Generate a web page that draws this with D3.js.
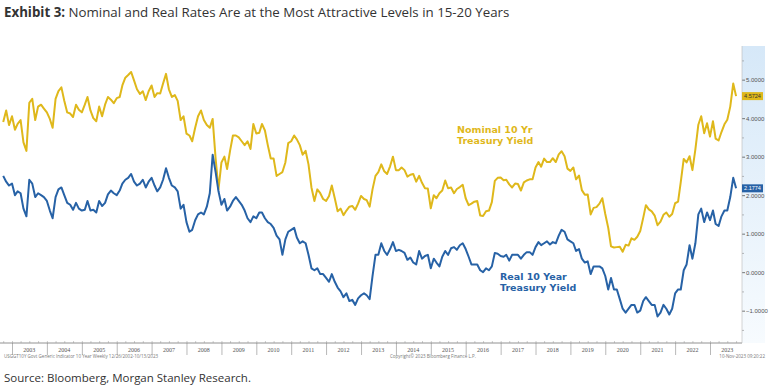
<!DOCTYPE html>
<html>
<head>
<meta charset="utf-8">
<script src="https://cdn.jsdelivr.net/npm/d3@7"></script>
<style>
body { margin: 0; background: #fff; }
svg { display: block; font-family: "Open Sans", sans-serif; }
</style>
</head>
<body>
<div id="chart"></div>
<script>
// monthly readings, Oct 2002 .. Oct 2023
var firstMonth = new Date(2002, 9, 1);

var nominalYield = [
  3.90, 4.20, 3.82,
  4.05, 3.70, 3.85, 3.95, 3.37, 3.15, 4.40, 4.50, 3.95, 4.30, 4.35, 4.25,
  4.15, 3.98, 3.75, 4.50, 4.70, 4.80, 4.45, 4.15, 4.12, 4.03, 4.35, 4.22,
  4.15, 4.35, 4.55, 4.20, 4.00, 3.92, 4.30, 4.05, 4.35, 4.55, 4.48, 4.39,
  4.52, 4.55, 4.85, 5.05, 5.12, 5.20, 4.98, 4.75, 4.63, 4.70, 4.47, 4.70,
  4.85, 4.55, 4.65, 4.64, 4.90, 5.15, 4.75, 4.55, 4.60, 4.45, 3.95, 4.05,
  3.60, 3.55, 3.40, 3.75, 4.05, 4.20, 3.95, 3.82, 3.75, 3.98, 2.95, 2.15,
  2.85, 3.00, 2.68, 3.15, 3.55, 3.55, 3.50, 3.40, 3.30, 3.40, 3.20, 3.85,
  3.60, 3.62, 3.85, 3.68, 3.30, 2.95, 2.95, 2.50, 2.55, 2.60, 2.85, 3.35,
  3.40, 3.55, 3.45, 3.30, 3.05, 3.15, 2.80, 2.20, 1.85, 2.15, 2.05, 1.90,
  1.85, 1.98, 2.25, 1.92, 1.58, 1.65, 1.48, 1.60, 1.70, 1.72, 1.62, 1.78,
  1.98, 1.90, 1.87, 1.70, 2.15, 2.50, 2.60, 2.80, 2.62, 2.55, 2.75, 3.00,
  2.65, 2.65, 2.72, 2.65, 2.48, 2.53, 2.55, 2.35, 2.50, 2.32, 2.18, 2.17,
  1.66, 2.00, 1.92, 2.05, 2.12, 2.38, 2.18, 2.20, 2.05, 2.16, 2.21, 2.27,
  1.92, 1.74, 1.78, 1.83, 1.85, 1.47, 1.46, 1.58, 1.60, 1.82, 2.37, 2.45,
  2.46, 2.39, 2.40, 2.28, 2.20, 2.30, 2.29, 2.12, 2.33, 2.38, 2.41, 2.41,
  2.72, 2.86, 2.74, 2.95, 2.86, 2.86, 2.96, 2.86, 3.06, 3.14, 3.01, 2.69,
  2.63, 2.72, 2.41, 2.51, 2.13, 2.01, 2.02, 1.50, 1.67, 1.69, 1.78, 1.92,
  1.51, 1.15, 0.67, 0.64, 0.65, 0.66, 0.53, 0.71, 0.69, 0.88, 0.84, 0.92,
  1.07, 1.41, 1.74, 1.63, 1.58, 1.47, 1.22, 1.31, 1.49, 1.55, 1.44, 1.51,
  1.79, 1.83, 2.34, 2.94, 2.85, 3.01, 2.65, 3.19, 3.83, 4.05, 3.61, 3.87,
  3.52, 3.92, 3.47, 3.42, 3.64, 3.84, 3.96, 4.30, 4.90, 4.5724
];

var realYield = [
  2.50, 2.35, 2.25,
  2.30, 2.00, 2.10, 2.05, 1.65, 1.45, 2.40, 2.30, 1.95, 2.05, 2.00, 1.95,
  1.85, 1.60, 1.40, 1.95, 2.15, 2.20, 2.00, 1.80, 1.75, 1.62, 1.80, 1.65,
  1.60, 1.62, 1.85, 1.60, 1.62, 1.55, 1.85, 1.72, 1.80, 2.02, 2.12, 2.05,
  2.00, 2.12, 2.30, 2.40, 2.45, 2.55, 2.35, 2.25, 2.30, 2.40, 2.20, 2.35,
  2.45, 2.25, 2.10, 2.20, 2.40, 2.70, 2.45, 2.25, 2.20, 2.10, 1.65, 1.75,
  1.30, 1.05, 1.10, 1.35, 1.50, 1.55, 1.50, 1.70, 2.05, 3.05, 2.60, 2.10,
  1.75, 1.90, 1.60, 1.70, 1.85, 1.95, 1.85, 1.75, 1.60, 1.40, 1.30, 1.45,
  1.40, 1.55, 1.55, 1.40, 1.30, 1.25, 1.15, 0.95, 0.85, 0.45, 0.85, 1.05,
  1.10, 1.15, 0.90, 0.75, 0.80, 0.75, 0.45, 0.10, 0.05, 0.10, -0.05, -0.05,
  -0.15, -0.25, -0.05, -0.25, -0.40, -0.50, -0.65, -0.55, -0.75, -0.72, -0.85, -0.68,
  -0.60, -0.55, -0.60, -0.70, -0.10, 0.45, 0.45, 0.75, 0.55, 0.45, 0.60, 0.78,
  0.55, 0.58, 0.55, 0.50, 0.32, 0.38, 0.25, 0.20, 0.55, 0.35, 0.42, 0.45,
  0.10, 0.35, 0.25, 0.15, 0.40, 0.55, 0.45, 0.62, 0.65, 0.58, 0.70, 0.75,
  0.60, 0.40, 0.20, 0.20, 0.20, 0.05, 0.00, 0.10, 0.05, 0.15, 0.50, 0.48,
  0.42, 0.40, 0.45, 0.30, 0.45, 0.45, 0.45, 0.35, 0.45, 0.52, 0.52, 0.45,
  0.65, 0.78, 0.70, 0.75, 0.80, 0.72, 0.78, 0.75, 0.95, 1.10, 1.05, 0.85,
  0.80, 0.75, 0.55, 0.60, 0.35, 0.25, 0.28, -0.05, 0.15, 0.15, 0.15, 0.10,
  -0.10, -0.45, -0.15, -0.45, -0.45, -0.70, -0.95, -1.05, -0.95, -0.85, -0.85, -1.05,
  -1.00, -0.75, -0.65, -0.75, -0.85, -0.85, -1.15, -1.05, -0.85, -0.95, -1.10, -0.95,
  -0.55, -0.45, -0.45, 0.05, 0.20, 0.70, 0.35, 0.75, 1.50, 1.65, 1.30, 1.55,
  1.35, 1.60, 1.25, 1.20, 1.45, 1.60, 1.60, 1.95, 2.45, 2.1774
];

var yearLabels = ["2003","2004","2005","2006","2007","2008","2009","2010","2011","2012",
  "2013","2014","2015","2016","2017","2018","2019","2020","2021","2022","2023"];
var yTicks = [-1, 0, 1, 2, 3, 4, 5];

var w = 778, h = 387;
var gold = "#dfb81b", blue = "#2762a6";

var svg = d3.select("#chart").append("svg")
  .attr("width", w)
  .attr("height", h);

var x = d3.scaleTime()
  .domain([new Date(2003, 0, 1), new Date(2023, 0, 1)])
  .range([12, 710]);
var y = d3.scaleLinear()
  .domain([-1.84, 6.03])
  .range([343, 40]);

var dates = nominalYield.map(function(d, i) { return d3.timeMonth.offset(firstMonth, i); });

// right axis panel
var grad = svg.append("defs").append("linearGradient")
  .attr("id", "panel").attr("x1", 0).attr("y1", 0).attr("x2", 0).attr("y2", 1);
grad.append("stop").attr("offset", "0%").attr("stop-color", "#d6e8f8");
grad.append("stop").attr("offset", "100%").attr("stop-color", "#f7fbfe");
svg.append("rect")
  .attr("x", 742).attr("y", 46).attr("width", 23).attr("height", 297)
  .attr("fill", "url(#panel)");

// title
var title = svg.append("text").attr("x", 4).attr("y", 17)
  .attr("font-size", 13.3).attr("fill", "#333");
title.append("tspan").attr("font-weight", "bold").text("Exhibit 3:");
title.append("tspan").text(" Nominal and Real Rates Are at the Most Attractive Levels in 15-20 Years");

// x axis
var xAxis = d3.axisBottom(x)
  .tickValues(d3.timeYear.range(new Date(2003, 0, 1), new Date(2024, 0, 1)))
  .tickSize(12)
  .tickFormat("");
var gx = svg.append("g").attr("transform", "translate(0,343)").call(xAxis);
gx.select(".domain").remove();
gx.selectAll("line").attr("stroke", "#888").attr("stroke-width", 0.6);
svg.append("line").attr("x1", 0).attr("x2", 742).attr("y1", 343).attr("y2", 343)
  .attr("stroke", "#777").attr("stroke-width", 0.8);

var minorX = d3.axisTop(x)
  .tickValues(d3.timeMonth.range(new Date(2002, 9, 1), new Date(2023, 11, 1), 3))
  .tickSize(2).tickFormat("");
var gmx = svg.append("g").attr("transform", "translate(0,343)").call(minorX);
gmx.select(".domain").remove();
gmx.selectAll("line").attr("stroke", "#999").attr("stroke-width", 0.5);

svg.append("g").selectAll("text")
  .data(yearLabels)
  .enter().append("text")
  .attr("x", function(d) { return x(new Date(+d, 6, 1)); })
  .attr("y", 352)
  .attr("text-anchor", "middle")
  .attr("font-size", 6)
  .attr("font-family", "Liberation Serif, serif")
  .attr("fill", "#555")
  .text(function(d) { return d; });

// right y axis
var yAxis = d3.axisRight(y)
  .tickValues(yTicks)
  .tickSize(3)
  .tickFormat(d3.format(".4f"));
var gy = svg.append("g").attr("transform", "translate(742,0)").call(yAxis);
gy.select(".domain").remove();
gy.selectAll("line").attr("stroke", "#555").attr("stroke-width", 0.8);
gy.selectAll("text").attr("font-size", 6).attr("fill", "#555")
  .attr("font-family", "Liberation Sans, sans-serif").attr("x", 4);

var minorY = d3.axisRight(y)
  .tickValues([-1.5, -0.5, 0.5, 1.5, 2.5, 3.5, 4.5, 5.5])
  .tickSize(2).tickFormat("");
var gmy = svg.append("g").attr("transform", "translate(742,0)").call(minorY);
gmy.select(".domain").remove();
gmy.selectAll("line").attr("stroke", "#888").attr("stroke-width", 0.6);

svg.append("line").attr("x1", 742).attr("x2", 742).attr("y1", 46).attr("y2", 343)
  .attr("stroke", "#bbb").attr("stroke-width", 0.6);

// lines
var line = d3.line()
  .x(function(d) { return x(d[0]); })
  .y(function(d) { return y(d[1]); });

svg.append("path")
  .datum(dates.map(function(d, i) { return [d, nominalYield[i]]; }))
  .attr("d", line)
  .attr("fill", "none")
  .attr("stroke", gold)
  .attr("stroke-width", 2)
  .attr("stroke-linejoin", "round");

svg.append("path")
  .datum(dates.map(function(d, i) { return [d, realYield[i]]; }))
  .attr("d", line)
  .attr("fill", "none")
  .attr("stroke", blue)
  .attr("stroke-width", 2)
  .attr("stroke-linejoin", "round");

// last value tags
var lastN = nominalYield[nominalYield.length - 1];
var lastR = realYield[realYield.length - 1];
svg.append("rect").attr("x", 742).attr("y", y(lastN) - 4).attr("width", 21).attr("height", 8)
  .attr("fill", gold);
svg.append("text").attr("x", 752.5).attr("y", y(lastN) + 2).attr("text-anchor", "middle")
  .attr("font-size", 5.5).attr("font-family", "Liberation Sans, sans-serif")
  .attr("fill", "#333").text(d3.format(".4f")(lastN));
svg.append("rect").attr("x", 742).attr("y", y(lastR) - 4).attr("width", 21).attr("height", 8)
  .attr("fill", blue);
svg.append("text").attr("x", 752.5).attr("y", y(lastR) + 2).attr("text-anchor", "middle")
  .attr("font-size", 5.5).attr("font-family", "Liberation Sans, sans-serif")
  .attr("fill", "#fff").text(d3.format(".4f")(lastR));

// series labels
var nomLabel = svg.append("text").attr("font-size", 9.5).attr("font-weight", "bold")
  .attr("font-family", "DejaVu Sans, sans-serif").attr("fill", gold);
nomLabel.append("tspan").attr("x", 457).attr("y", 133).text("Nominal 10 Yr");
nomLabel.append("tspan").attr("x", 457).attr("y", 144).text("Treasury Yield");

var realLabel = svg.append("text").attr("font-size", 9.5).attr("font-weight", "bold")
  .attr("font-family", "DejaVu Sans, sans-serif").attr("fill", blue);
realLabel.append("tspan").attr("x", 500).attr("y", 280).text("Real 10 Year");
realLabel.append("tspan").attr("x", 500).attr("y", 291).text("Treasury Yield");

// bloomberg footer
svg.append("text").attr("x", 4).attr("y", 358).attr("font-size", 4.5).attr("fill", "#777")
  .text("USGGT10Y Govt Generic Indicator 10 Year   Weekly 12/26/2002-10/13/2023");
svg.append("text").attr("x", 390).attr("y", 358).attr("font-size", 4.5).attr("fill", "#777")
  .text("Copyright\u00a9 2023 Bloomberg Finance L.P.");
svg.append("text").attr("x", 765).attr("y", 358).attr("font-size", 4.5).attr("fill", "#777")
  .attr("text-anchor", "end").text("10-Nov-2023 09:20:22");

// source
svg.append("text").attr("x", 4).attr("y", 382).attr("font-size", 11.5).attr("fill", "#333")
  .text("Source: Bloomberg, Morgan Stanley Research.");
</script>
</body>
</html>
